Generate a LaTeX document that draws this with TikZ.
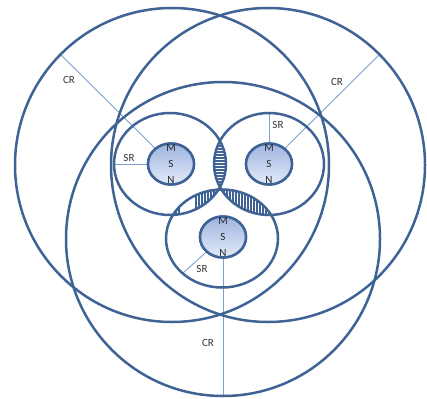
\documentclass[tikz,border=0pt]{standalone}
\usepackage{fontspec}
\setmainfont{Carlito}
\usetikzlibrary{shapes.geometric}
\definecolor{edge}{RGB}{62,99,148}
\definecolor{thinc}{RGB}{125,160,210}
\definecolor{msntop}{RGB}{158,180,224}
\definecolor{msnbot}{RGB}{228,235,248}
\begin{document}
\begin{tikzpicture}[x=1pt,y=-1pt,
  outline/.style={draw=edge,line width=2.5pt},
  msn/.style={ellipse,draw=edge,line width=2.5pt,minimum width=46pt,minimum height=41pt,top color=msntop,bottom color=msnbot,inner sep=0pt},
  msntxt/.style={align=center,font=\fontsize{11}{16}\selectfont,text=black!85,inner sep=0pt},
  rad/.style={draw=thinc,line width=0.9pt},
  lbl/.style={font=\fontsize{11}{12}\selectfont,text=black!80,inner sep=0pt},
  hatch/.style={draw=edge,line width=1.5pt}]
\useasboundingbox (0,0) rectangle (427,398);
% centres
\coordinate (B1) at (172,165);
\coordinate (B2) at (268,165);
\coordinate (B3) at (223,239);
\coordinate (S1) at (170,164);
\coordinate (S2) at (269,164);
\coordinate (S3) at (222,238.5);
% radius end points
\coordinate (c1) at (60,54);
\coordinate (c2) at (380,54);
\coordinate (c3) at (223,396);
\coordinate (e1) at (114,164);
\coordinate (e2) at (269,113);
\coordinate (e3) at (183,273);
% hatched lenses
\begin{scope}
  \clip (S1) ellipse [x radius=56, y radius=51];
  \clip (S2) ellipse [x radius=55, y radius=51];
  \foreach \y in {137,140,...,192} \draw[hatch] (200,\y) -- (240,\y);
\end{scope}
\begin{scope}
  \clip (S1) ellipse [x radius=56, y radius=51];
  \clip (S3) ellipse [x radius=56, y radius=49];
  \foreach \x in {173,176,179,196,199,...,214} \draw[hatch] (\x,180) -- (\x,225);
\end{scope}
\begin{scope}
  \clip (S2) ellipse [x radius=55, y radius=51];
  \clip (S3) ellipse [x radius=56, y radius=49];
  \foreach \x in {221,224,...,272} \draw[hatch] (\x,180) -- (\x,225);
\end{scope}
% MSN nodes
\node[msn] (m1) at (171,164) {};
\node[msn] (m2) at (269,164) {};
\node[msn] (m3) at (223,237) {};
% radius lines
\draw[rad] (m1) -- (c1);
\draw[rad] (m2) -- (c2);
\draw[rad] (m3) -- (c3);
\draw[rad] (m1) -- (e1);
\draw[rad] (m2) -- (e2);
\draw[rad] (m3) -- (e3);
% big circles
\draw[outline] (B1) circle [radius=157];
\draw[outline] (B2) circle [radius=157];
\draw[outline] (B3) circle [radius=157];
% SR ellipses
\draw[outline] (S1) ellipse [x radius=56, y radius=51];
\draw[outline] (S2) ellipse [x radius=55, y radius=51];
\draw[outline] (S3) ellipse [x radius=56, y radius=49];
% redraw MSN on top
\node[msn] at (m1) {};
\node[msn] at (m2) {};
\node[msn] at (m3) {};
\node[msntxt] (t1) at (m1) {M\\S\\N};
\node[msntxt] (t2) at (m2) {M\\S\\N};
\node[msntxt] (t3) at (m3) {M\\S\\N};
% labels
\node[lbl] (l1) at (69,80) {CR};
\node[lbl] (l2) at (337,82) {CR};
\node[lbl] (l3) at (208,343) {CR};
\node[lbl] (l4) at (129,158) {SR};
\node[lbl] (l5) at (278,125) {SR};
\node[lbl] (l6) at (202,269) {SR};
\end{tikzpicture}
\end{document}
